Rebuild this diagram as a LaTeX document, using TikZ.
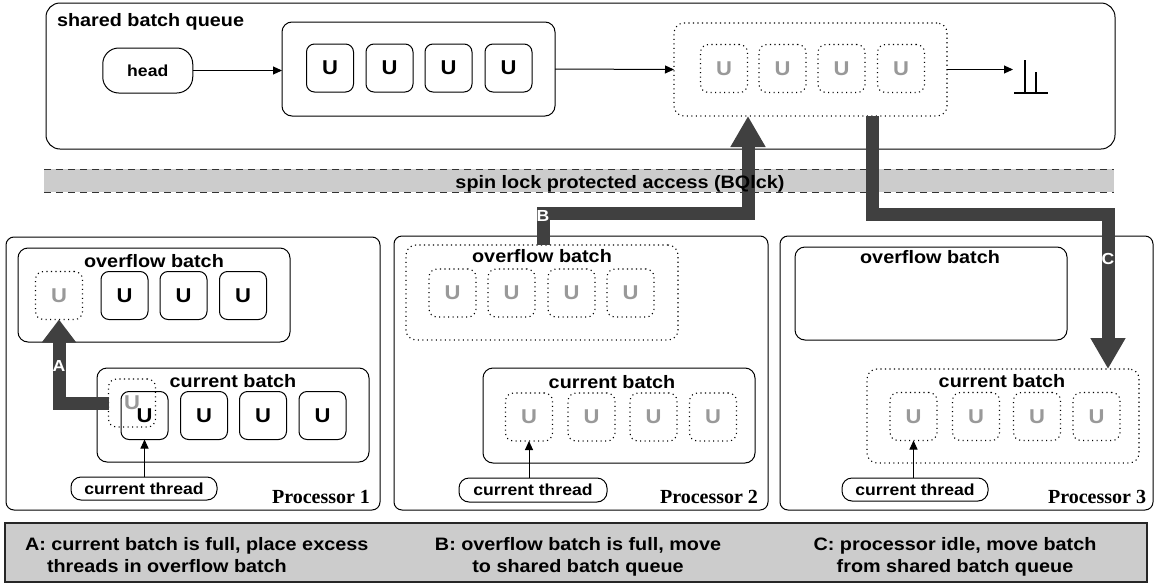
\documentclass[tikz,border=0pt]{standalone}
\usepackage{fontspec}
\setmainfont{Liberation Sans}[FakeStretch=1.1]
\newfontfamily\dgprocfamily{Liberation Serif}
\usetikzlibrary{arrows.meta}
\definecolor{arrowgray}{HTML}{404040}
\definecolor{bandgray}{HTML}{CCCCCC}
\definecolor{ugray}{HTML}{999999}
\newcommand\dgLfont{\fontsize{18}{21}\selectfont\bfseries}
\newcommand\dgUfont{\fontsize{20}{22}\selectfont\bfseries}
\newcommand\dgSfont{\fontsize{16}{18}\selectfont\bfseries}
\newcommand\dgPfont{\dgprocfamily\fontsize{20}{22}\selectfont\bfseries}
\begin{document}
\begin{tikzpicture}[x=1pt,y=-1pt,
  every node/.style={inner sep=0pt, outer sep=0pt},
  solidbox/.style={draw=black, line width=1pt, rounded corners=#1},
  dotbox/.style={draw=black, line width=1.1pt, dash pattern=on 1.1pt off 3.4pt, rounded corners=#1},
  ubox/.style={solidbox=8pt, fill=white, minimum width=47pt, minimum height=48pt, font=\dgUfont},
  dubox/.style={dotbox=8pt, minimum width=47pt, minimum height=48pt, font=\dgUfont, text=ugray},
  lbl/.style={font=\dgLfont, anchor=base},
  thinarrow/.style={draw=black, line width=1pt, -{Triangle[width=8pt 0 0,length=9pt 0 0]}},
  bigarrow/.style={draw=arrowgray, line width=13pt, line join=miter, line cap=butt, -{Triangle[width=33pt 0 0,length=31pt 0 0]}},
  abc/.style={font=\dgSfont, text=white},
  banddash/.style={draw=black!80, line width=1pt, dash pattern=on 7pt off 5pt}
]
\useasboundingbox (0,0) rectangle (1157,584);

% ---------- shared batch queue ----------
\node[solidbox=14pt, minimum width=1069pt, minimum height=146pt] (sbq) at (580.5,76) {};
\node[lbl, anchor=base west] (sbqt) at (57,26) {shared batch queue};
\node[solidbox=16pt, minimum width=90pt, minimum height=45pt, font=\dgSfont] (head) at (147.75,70.5) {head};
\node[solidbox=10pt, minimum width=273pt, minimum height=94pt] (bq1) at (418.5,69) {};
\foreach \x [count=\i] in {330,389.5,448.5,508.5}
  \node[ubox] (bqa\i) at (\x,68) {U};
\node[dotbox=10pt, minimum width=273pt, minimum height=93pt] (bq2) at (810.5,69.5) {};
\foreach \x [count=\i] in {724,782.5,841.5,901}
  \node[dubox] (bqb\i) at (\x,68.5) {U};
\coordinate (gnd) at (1013,69.5);
\draw[thinarrow] (head) -- (bq1.west |- head);
\draw[thinarrow] (bq1.east) -- (bq2.west);
\draw[thinarrow] (bq2.east) -- (gnd);
\draw[line width=1.2pt] (1014,93) -- (1048,93) (1025,60) -- (1025,93) (1036,72) -- (1036,93);

% ---------- spin lock band ----------
\fill[bandgray] (44,169) rectangle (1114,192);
\draw[banddash] (44,169) -- (1114,169) (44,192) -- (1114,192);

% ---------- Processor 1 ----------
\node[solidbox=8pt, minimum width=374pt, minimum height=273pt] (p1) at (193,373.5) {};
\node[solidbox=10pt, minimum width=272pt, minimum height=94pt] (ov1) at (154,295) {};
\node[lbl] (ov1t) at (154,267) {overflow batch};
\node[dubox] (ov1a) at (59,295.5) {U};
\foreach \x [count=\i] in {124.5,183.5,243}
  \node[ubox] (ov1u\i) at (\x,295.5) {U};
\node[solidbox=10pt, minimum width=272pt, minimum height=94pt] (cb1) at (233,415) {};
\node[lbl] (cb1t) at (233,387) {current batch};
\foreach \x [count=\i] in {144.5,204,263,322.5}
  \node[ubox] (cb1u\i) at (\x,415.5) {U};
\node[dubox] (cb1x) at (132,403) {U};
\node[solidbox=10pt, minimum width=146pt, minimum height=23pt, font=\dgSfont] (ct1) at (144,488.5) {current thread};
\draw[thinarrow] (ct1.north -| cb1u1) -- (cb1u1.south);
\node[font=\dgPfont, anchor=base east] (p1t) at (370,503) {Processor 1};

% ---------- Processor 2 ----------
\node[solidbox=8pt, minimum width=374pt, minimum height=274pt] (p2) at (581,373) {};
\node[dotbox=10pt, minimum width=272pt, minimum height=95pt] (ov2) at (542,292.5) {};
\node[lbl] (ov2t) at (542,262) {overflow batch};
\foreach \x [count=\i] in {452.5,511.5,571.5,630.5}
  \node[dubox] (ov2u\i) at (\x,293) {U};
\node[solidbox=10pt, minimum width=272pt, minimum height=95pt] (cb2) at (619,415.5) {};
\node[lbl] (cb2t) at (612,388) {current batch};
\foreach \x [count=\i] in {529,591.5,653.5,713}
  \node[dubox] (cb2u\i) at (\x,417) {U};
\node[solidbox=10pt, minimum width=148pt, minimum height=24pt, font=\dgSfont] (ct2) at (533,490) {current thread};
\draw[thinarrow] (ct2.north -| cb2u1) -- (cb2u1.south);
\node[font=\dgPfont, anchor=base east] (p2t) at (758,503) {Processor 2};

% ---------- Processor 3 ----------
\node[solidbox=8pt, minimum width=373pt, minimum height=274pt] (p3) at (966.5,373) {};
\node[solidbox=10pt, minimum width=272pt, minimum height=93pt] (ov3) at (931,293.5) {};
\node[lbl] (ov3t) at (930,263) {overflow batch};
\node[dotbox=10pt, minimum width=272pt, minimum height=94pt] (cb3) at (1003,416) {};
\node[lbl] (cb3t) at (1002,387) {current batch};
\foreach \x [count=\i] in {913.5,976,1037,1096.5}
  \node[dubox] (cb3u\i) at (\x,416.5) {U};
\node[solidbox=10pt, minimum width=146pt, minimum height=23pt, font=\dgSfont] (ct3) at (915,489.5) {current thread};
\draw[thinarrow] (ct3.north -| cb3u1) -- (cb3u1.south);
\node[font=\dgPfont, anchor=base east] (p3t) at (1146,503) {Processor 3};

% ---------- thick arrows ----------
\draw[bigarrow, -{Triangle[width=33pt 0 0,length=23pt 0 0]}] (cb1x.west) -- (ov1a.south |- cb1x.west) -- (ov1a.south);
\node[abc] (la) at (59,366) {A};

\coordinate (bcol) at (543,213);
\coordinate (bcol2) at (748,213);
\draw[bigarrow] (ov2.north -| bcol) -- (bcol) -- (bcol2) -- (bq2.south -| bcol2);
\node[abc] (lb) at (543,216) {B};

\coordinate (ccol) at (872.5,214);
\coordinate (ccol2) at (1108,214);
\draw[bigarrow] (bq2.south -| ccol) -- (ccol) -- (ccol2) -- (cb3.north -| ccol2);
\node[abc] (lc) at (1108,259) {C};

\node[lbl] (band) at (620,188) {spin lock protected access (BQlck)};

% ---------- legend ----------
\node[draw=black!85, line width=1.2pt, fill=bandgray, minimum width=1142pt, minimum height=59pt] (leg) at (576,552.5) {};
\node[lbl, anchor=base west] (la1) at (25,550) {A: current batch is full, place excess};
\node[lbl, anchor=base west] (la2) at (47,572) {threads in overflow batch};
\node[lbl] (lb1) at (578,550) {B: overflow batch is full, move};
\node[lbl] (lb2) at (578,572) {to shared batch queue};
\node[lbl] (lc1) at (955,550) {C: processor idle, move batch};
\node[lbl] (lc2) at (955,572) {from shared batch queue};
\end{tikzpicture}
\end{document}
